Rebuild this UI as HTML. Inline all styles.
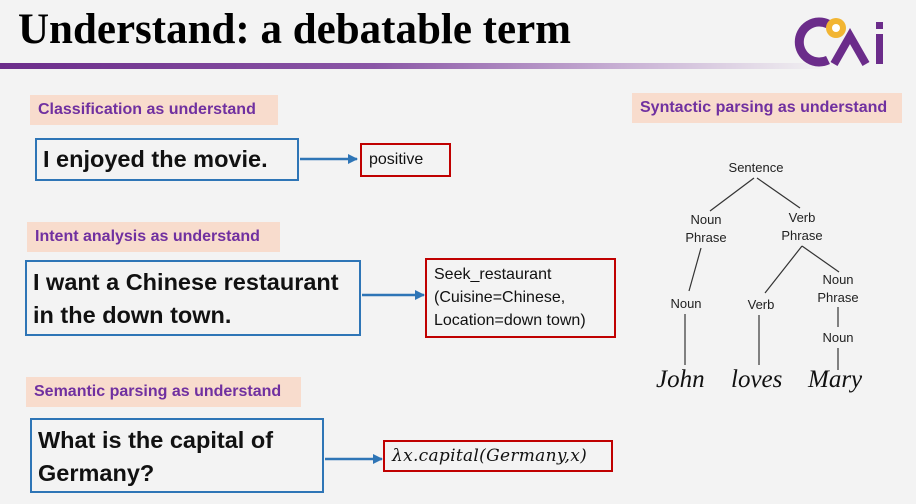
<!DOCTYPE html>
<html><head><meta charset="utf-8"><style>
body{margin:0;width:916px;height:504px;background:#f3f3f3;position:relative;overflow:hidden;font-family:"Liberation Sans",sans-serif}
.a{position:absolute}
.title{left:18px;top:5px;font-family:"Liberation Serif",serif;font-weight:bold;font-size:43px;color:#000;letter-spacing:0px}
.bar{left:0;top:63px;width:830px;height:6px;background:linear-gradient(90deg,#6b2c8a 0%,#8a56a6 45%,#c8b0d4 75%,rgba(243,243,243,0) 100%)}
.lab{background:#f8dccd;color:#7030a0;font-weight:bold;font-size:16px;line-height:30px;padding-left:8px;box-sizing:border-box}
.bb{border:2px solid #2e75b6;box-sizing:border-box;font-weight:bold;font-size:23.5px;color:#111;padding-left:6px;white-space:nowrap}
.rb{border:2px solid #c00000;box-sizing:border-box;font-size:16px;color:#111;padding-left:7px}
.tr{font-size:13px;color:#222;text-align:center;line-height:18px}
.w{font-family:"Liberation Serif",serif;font-style:italic;font-size:25px;color:#111}
</style></head><body>
<div class="a title">Understand: a debatable term</div>
<div class="a bar"></div>
<svg class="a" style="left:792px;top:12px" width="110" height="60">
<path d="M36 12 A20 20 0 1 0 36 48" fill="none" stroke="#6b2c8a" stroke-width="9"/>
<circle cx="44" cy="16" r="10" fill="#f2b532"/><circle cx="44" cy="16" r="4" fill="#fff"/>
<path d="M42 52 L58 24 L74 52" fill="none" stroke="#6b2c8a" stroke-width="8"/>
<rect x="84" y="22" width="7" height="30" fill="#6b2c8a"/><rect x="84" y="10" width="7" height="7" fill="#6b2c8a"/>
</svg>

<div class="a lab" style="left:30px;top:95px;width:248px">Classification as understand</div>
<div class="a bb" style="left:35px;top:138px;width:264px;height:43px;line-height:39px">I enjoyed the movie.</div>
<div class="a rb" style="left:360px;top:143px;width:91px;height:34px;line-height:30px">positive</div>

<div class="a lab" style="left:27px;top:222px;width:253px">Intent analysis as understand</div>
<div class="a bb" style="left:25px;top:260px;width:336px;height:76px;line-height:33px;padding-top:4px">I want a Chinese restaurant<br>in the down town.</div>
<div class="a rb" style="left:425px;top:258px;width:191px;height:80px;line-height:23px;padding-top:3px">Seek_restaurant<br>(Cuisine=Chinese,<br>Location=down town)</div>

<div class="a lab" style="left:26px;top:377px;width:275px">Semantic parsing as understand</div>
<div class="a bb" style="left:30px;top:418px;width:294px;height:75px;line-height:33px;padding-top:4px">What is the capital of<br>Germany?</div>
<div class="a rb" style="left:383px;top:440px;width:230px;height:32px;line-height:28px;font-family:'DejaVu Serif',serif;font-style:italic;font-size:17px;letter-spacing:0.3px">λx.capital(Germany,x)</div>

<div class="a lab" style="left:632px;top:93px;width:270px">Syntactic parsing as understand</div>

<svg class="a" style="left:0;top:0" width="916" height="504">
<defs><marker id="ar" markerWidth="10" markerHeight="10" refX="9" refY="5" orient="auto" markerUnits="userSpaceOnUse"><path d="M0 0L10 5L0 10z" fill="#2e75b6"/></marker></defs>
<g stroke="#2e75b6" stroke-width="2.5">
<line x1="300" y1="159" x2="357" y2="159" marker-end="url(#ar)"/>
<line x1="362" y1="295" x2="424" y2="295" marker-end="url(#ar)"/>
<line x1="325" y1="459" x2="382" y2="459" marker-end="url(#ar)"/>
</g>
<g stroke="#333" stroke-width="1.2">
<line x1="754" y1="178" x2="710" y2="211"/><line x1="757" y1="178" x2="800" y2="208"/>
<line x1="701" y1="248" x2="689" y2="291"/>
<line x1="802" y1="246" x2="765" y2="293"/><line x1="802" y1="246" x2="839" y2="272"/>
<line x1="838" y1="307" x2="838" y2="327"/><line x1="838" y1="348" x2="838" y2="370"/>
<line x1="685" y1="314" x2="685" y2="365"/><line x1="759" y1="315" x2="759" y2="365"/>
</g>
</svg>
<div class="a tr" style="left:716px;top:159px;width:80px">Sentence</div>
<div class="a tr" style="left:666px;top:211px;width:80px">Noun<br>Phrase</div>
<div class="a tr" style="left:762px;top:209px;width:80px">Verb<br>Phrase</div>
<div class="a tr" style="left:646px;top:295px;width:80px">Noun</div>
<div class="a tr" style="left:721px;top:296px;width:80px">Verb</div>
<div class="a tr" style="left:798px;top:271px;width:80px">Noun<br>Phrase</div>
<div class="a tr" style="left:798px;top:329px;width:80px">Noun</div>
<div class="a w" style="left:656px;top:366px">John</div>
<div class="a w" style="left:731px;top:366px">loves</div>
<div class="a w" style="left:808px;top:366px">Mary</div>
</body></html>
